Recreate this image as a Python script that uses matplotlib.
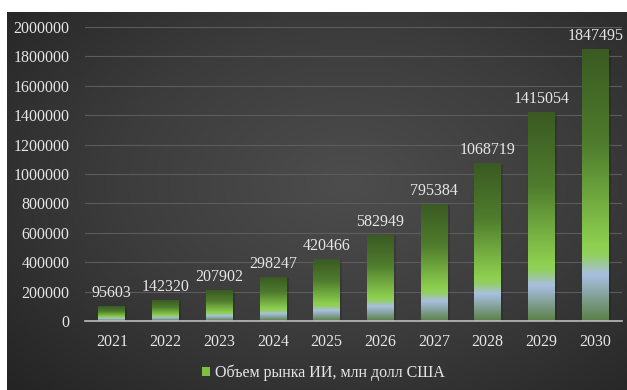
import matplotlib.pyplot as plt
import numpy as np
from matplotlib.colors import LinearSegmentedColormap
from matplotlib.patches import Patch

# Data for the chart
years = ['2021', '2022', '2023', '2024', '2025', '2026', '2027', '2028', '2029', '2030']
market = [95603, 142320, 207902, 298247, 420466, 582949, 795384, 1068719, 1415054, 1847495]
series_label = 'Объем рынка ИИ, млн долл США'

plt.rcParams['font.family'] = ['Liberation Serif', 'DejaVu Serif']
txt_color = '#e6e6e6'

fig = plt.figure(figsize=(6.27, 3.9), dpi=100, facecolor='white')

# dark radial background of the chart area
W, H = 627, 390
bg_ax = fig.add_axes([7 / W, 0, 1 - 7 / W, 1 - 12 / H])
bg_ax.set_axis_off()
yy, xx = np.mgrid[0:1:300j, 0:1:400j]
r = np.sqrt(((xx - 0.55) / 0.75) ** 2 + ((yy - 0.45) / 0.8) ** 2)
r = np.clip(r, 0, 1)
bg_cmap = LinearSegmentedColormap.from_list('bg', ['#4d4d4d', '#3c3c3c', '#242424'])
bg_ax.imshow(r, cmap=bg_cmap, aspect='auto', extent=[0, 1, 0, 1], origin='upper')
bg_ax.set_xlim(0, 1)
bg_ax.set_ylim(0, 1)

ax = fig.add_axes([85 / W, (H - 321) / H, (622 - 85) / W, (321 - 27) / H])
ax.patch.set_alpha(0)

# bar gradient: top -> bottom
bar_cmap = LinearSegmentedColormap.from_list('bar', [
    (0.0, '#3a5a22'),
    (0.35, '#4f7c2d'),
    (0.72, '#8dcf4f'),
    (0.76, '#92cf60'),
    (0.83, '#a9bfe2'),
    (1.0, '#5a8046'),
])
grad = np.linspace(0, 1, 256).reshape(-1, 1)

x = np.arange(len(years))
width = 0.5
for xi, v in zip(x, market):
    # soft shadow
    ax.bar(xi + 0.02, v, width + 0.04, bottom=-5000, color='black', alpha=0.15, zorder=2)
    ax.imshow(grad, cmap=bar_cmap, aspect='auto', origin='upper',
              extent=[xi - width / 2, xi + width / 2, 0, v], zorder=3)
    ax.annotate(f'{v}', (xi, v), xytext=(0, 4), textcoords='offset points',
                ha='center', va='bottom', color=txt_color, fontsize=11.5, zorder=4)

ax.set_xlim(-0.5, len(years) - 0.5)
ax.set_ylim(0, 2000000)
ax.set_yticks(np.arange(0, 2000001, 200000))
ax.set_yticklabels([str(t) for t in np.arange(0, 2000001, 200000)])
ax.set_xticks(x)
ax.set_xticklabels(years)
ax.tick_params(axis='both', length=0, colors=txt_color, labelsize=11.5)
ax.tick_params(axis='y', pad=11)
ax.tick_params(axis='x', pad=9)
ax.grid(axis='y', color='#5c5c5c', linewidth=0.8, zorder=1)
ax.set_axisbelow(True)
for s in ['top', 'right', 'left']:
    ax.spines[s].set_visible(False)
ax.spines['bottom'].set_color('#bdbdbd')
ax.spines['bottom'].set_linewidth(1.2)
ax.spines['bottom'].set_zorder(5)

handle = Patch(facecolor='#7cc142', edgecolor='none')
fig.legend([handle], [series_label], loc='center', bbox_to_anchor=(323 / W, (H - 373) / H),
           frameon=False, fontsize=11.5, labelcolor=txt_color,
           handlelength=0.5, handleheight=0.5, handletextpad=0.3)

fig.savefig('out.png', dpi=100, facecolor='white')
